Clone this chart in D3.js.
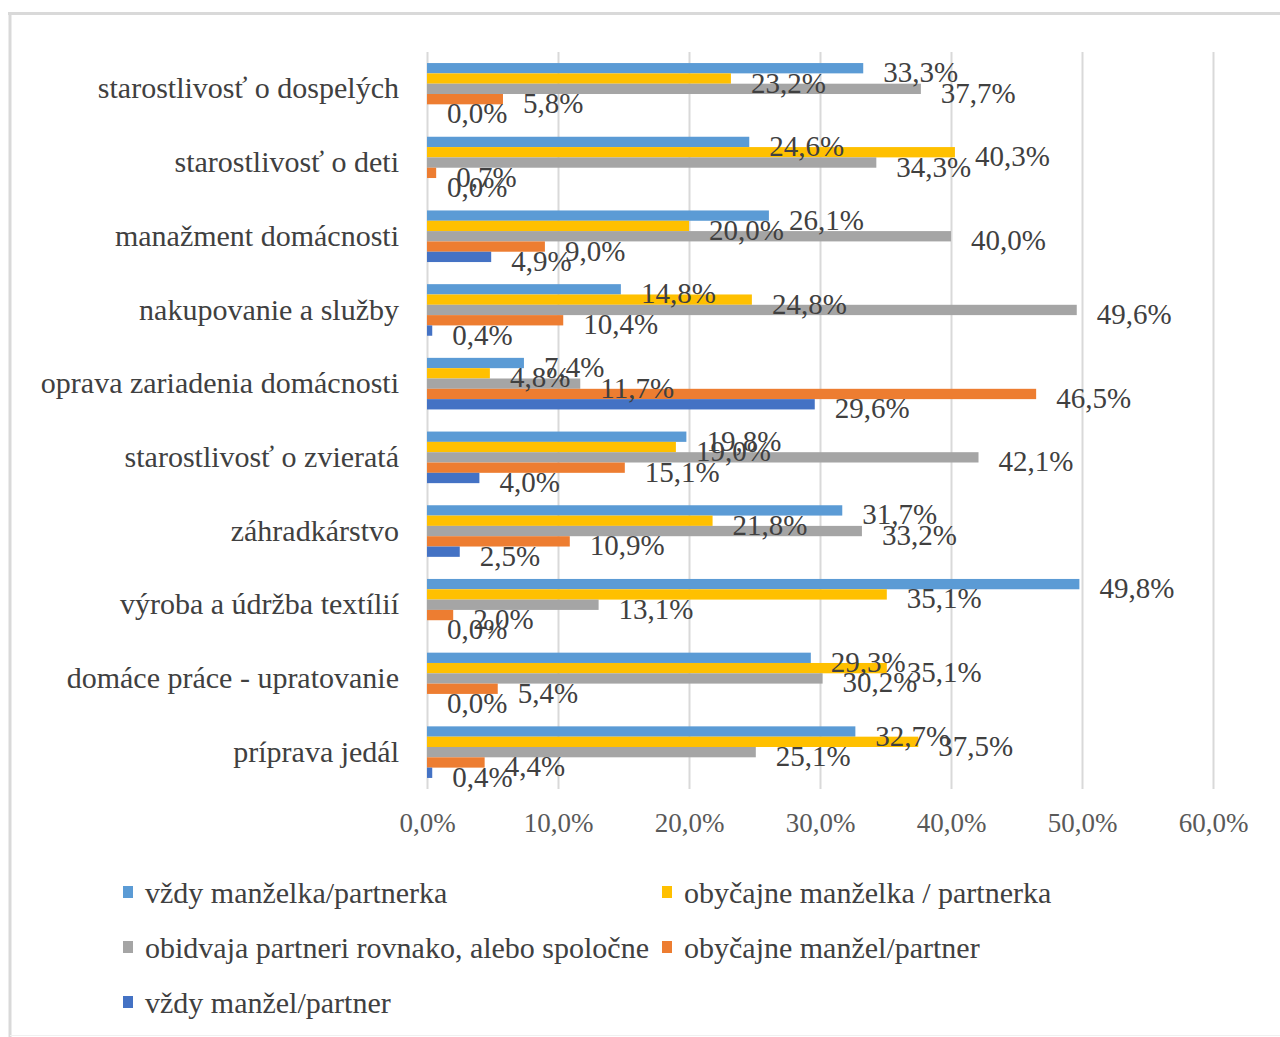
<!DOCTYPE html>
<html>
<head>
<meta charset="utf-8">
<script src="https://cdn.jsdelivr.net/npm/d3@7"></script>
<style>
  body { margin: 0; background: #fff; }
  svg text { font-family: "Liberation Serif", "Times New Roman", serif; }
</style>
</head>
<body>
<div id="chart"></div>
<script>
// categories, top to bottom
const categories = [
  'starostlivosť o dospelých',
  'starostlivosť o deti',
  'manažment domácnosti',
  'nakupovanie a služby',
  'oprava zariadenia domácnosti',
  'starostlivosť o zvieratá',
  'záhradkárstvo',
  'výroba a údržba textílií',
  'domáce práce - upratovanie',
  'príprava jedál'
];

const seriesNames = [
  'vždy manželka/partnerka',
  'obyčajne manželka / partnerka',
  'obidvaja partneri rovnako, alebo spoločne',
  'obyčajne manžel/partner',
  'vždy manžel/partner'
];

const seriesColors = ['#5b9bd5', '#ffc000', '#a5a5a5', '#ed7d31', '#4472c4'];

// values in %, one array per series, same order as categories
const vzdyManzelka     = [33.3, 24.6, 26.1, 14.8,  7.4, 19.8, 31.7, 49.8, 29.3, 32.7];
const obycajneManzelka = [23.2, 40.3, 20.0, 24.8,  4.8, 19.0, 21.8, 35.1, 35.1, 37.5];
const obidvaja         = [37.7, 34.3, 40.0, 49.6, 11.7, 42.1, 33.2, 13.1, 30.2, 25.1];
const obycajneManzel   = [ 5.8,  0.7,  9.0, 10.4, 46.5, 15.1, 10.9,  2.0,  5.4,  4.4];
const vzdyManzel       = [ 0.0,  0.0,  4.9,  0.4, 29.6,  4.0,  2.5,  0.0,  0.0,  0.4];

const xTicks = [0, 10, 20, 30, 40, 50, 60];

const allSeries = [vzdyManzelka, obycajneManzelka, obidvaja, obycajneManzel, vzdyManzel];

const width = 1280, height = 1037;
const plot = { left: 427, right: 1213, top: 52, bottom: 789 };
const fmt = v => v.toFixed(1).replace('.', ',') + '%';

const svg = d3.select('#chart').append('svg')
  .attr('width', width)
  .attr('height', height);

// frame
svg.append('line').attr('x1', 8).attr('x2', 1280).attr('y1', 13.5).attr('y2', 13.5)
  .attr('stroke', '#d9d9d9').attr('stroke-width', 3);
svg.append('line').attr('x1', 10).attr('x2', 10).attr('y1', 12).attr('y2', 1037)
  .attr('stroke', '#d9d9d9').attr('stroke-width', 3);
svg.append('line').attr('x1', 10).attr('x2', 1280).attr('y1', 1035.5).attr('y2', 1035.5)
  .attr('stroke', '#f0f0f0').attr('stroke-width', 1);

const x = d3.scaleLinear().domain([0, 60]).range([plot.left, plot.right]);

const y0 = d3.scaleBand()
  .domain(categories)
  .range([plot.top, plot.bottom])
  .paddingInner(0.3)
  .paddingOuter(0.15);

const y1 = d3.scaleBand()
  .domain(d3.range(seriesNames.length))
  .range([0, y0.bandwidth()]);

// grid + x axis
const xAxis = d3.axisBottom(x)
  .tickValues(xTicks)
  .tickFormat(d => fmt(d))
  .tickSize(-(plot.bottom - plot.top))
  .tickPadding(24);

const gx = svg.append('g')
  .attr('transform', `translate(0,${plot.bottom})`)
  .call(xAxis);
gx.select('.domain').remove();
gx.selectAll('.tick line').attr('stroke', '#d9d9d9').attr('stroke-width', 2);
gx.selectAll('.tick text')
  .attr('fill', '#595959')
  .attr('font-size', 27)
  .attr('font-family', '"Liberation Serif", serif');

// category labels
const gy = svg.append('g')
  .attr('transform', `translate(${plot.left - 28},0)`)
  .call(d3.axisLeft(y0).tickSize(0).tickPadding(0));
gy.select('.domain').remove();
gy.selectAll('.tick text')
  .attr('fill', '#404040')
  .attr('font-size', 30)
  .attr('font-family', '"Liberation Serif", serif');

// bars
const rows = categories.map((c, i) => ({
  cat: c,
  vals: allSeries.map((s, k) => ({ k: k, v: s[i] }))
}));

const groups = svg.append('g').selectAll('g')
  .data(rows)
  .join('g')
  .attr('transform', d => `translate(0,${y0(d.cat)})`);

groups.selectAll('rect')
  .data(d => d.vals)
  .join('rect')
  .attr('x', x(0))
  .attr('y', d => y1(d.k))
  .attr('width', d => x(d.v) - x(0))
  .attr('height', y1.bandwidth())
  .attr('fill', d => seriesColors[d.k]);

// data labels sit right of the bar end, like Excel's "outside end"
groups.selectAll('text')
  .data(d => d.vals)
  .join('text')
  .attr('x', d => x(d.v) + 20)
  .attr('y', d => y1(d.k) + y1.bandwidth() / 2 + 4)
  .attr('dominant-baseline', 'central')
  .attr('fill', '#404040')
  .attr('font-size', 29)
  .text(d => fmt(d.v));

// legend, two columns
const legendPos = [
  [123, 892], [662, 892],
  [123, 947], [662, 947],
  [123, 1002]
];

const legend = svg.append('g').selectAll('g')
  .data(seriesNames)
  .join('g')
  .attr('transform', (d, i) => `translate(${legendPos[i][0]},${legendPos[i][1]})`);

legend.append('rect')
  .attr('x', 0).attr('y', -6)
  .attr('width', 10).attr('height', 12)
  .attr('fill', (d, i) => seriesColors[i]);

legend.append('text')
  .attr('x', 22)
  .attr('y', 0)
  .attr('dominant-baseline', 'central')
  .attr('fill', '#404040')
  .attr('font-size', 30)
  .text(d => d);
</script>
</body>
</html>
